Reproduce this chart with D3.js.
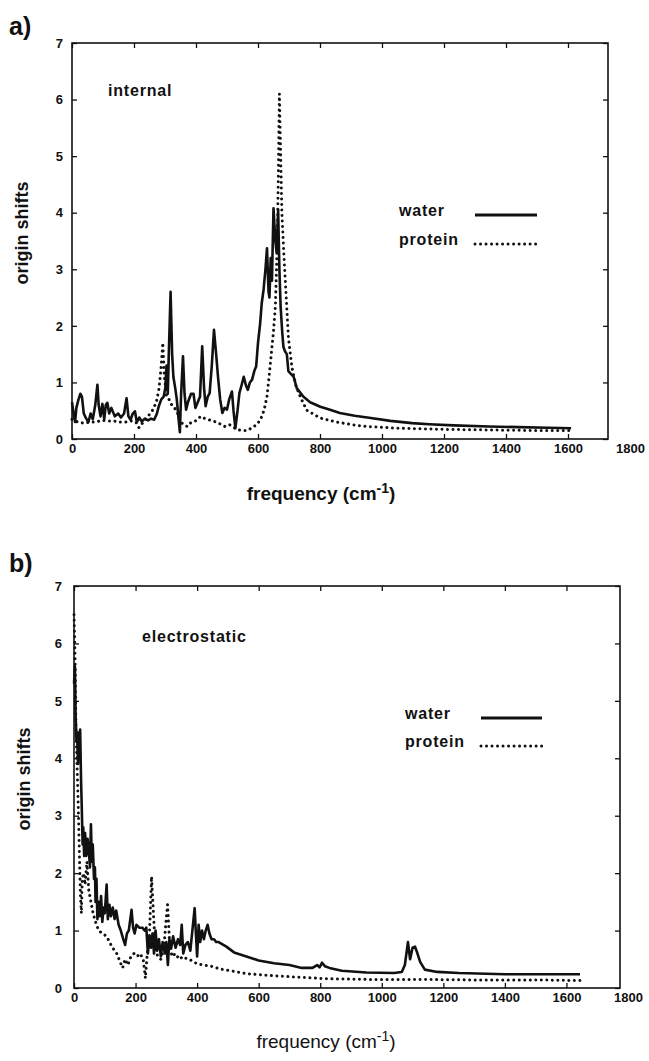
<!DOCTYPE html>
<html>
<head>
<meta charset="utf-8">
<script src="https://cdn.jsdelivr.net/npm/d3@7"></script>
<style>
  body { margin: 0; background: #fff; }
  svg text { font-family: 'Liberation Sans', Arial, sans-serif; fill: #111; }
  .tick text { font-size: 13px; font-weight: bold; }
  .tick line { stroke: #111; stroke-width: 1.3; }
  .frame { fill: none; stroke: #111; stroke-width: 1.6; }
  .water { fill: none; stroke: #111; stroke-width: 2.6; stroke-linejoin: round; }
  .protein { fill: none; stroke: #111; stroke-width: 3; stroke-dasharray: 0.01 5.5; stroke-linecap: round; }
  .panel-label { font-size: 25px; font-weight: bold; }
  .note { font-size: 16px; font-weight: bold; letter-spacing: 0.8px; }
  .axis-title { font-size: 18px; font-weight: bold; }
  .x-title { font-size: 19px; }
</style>
</head>
<body>
<svg width="649" height="1061"></svg>
<script>
const xTicks = [0, 200, 400, 600, 800, 1000, 1200, 1400, 1600, 1800]
const yTicks = [0, 1, 2, 3, 4, 5, 6, 7]
const legendNames = ['water', 'protein']

// a) internal : [frequency, origin shift]
const waterInternal = [
  [0, 0.65], [5, 0.45], [10, 0.3], [14, 0.55], [21, 0.7], [27, 0.8], [32, 0.75], [38, 0.45], [45, 0.37],
  [53, 0.3], [60, 0.45], [67, 0.35], [75, 0.6], [82, 0.96], [86, 0.6], [92, 0.4], [98, 0.62], [104, 0.35],
  [109, 0.6], [114, 0.64], [120, 0.45], [127, 0.55], [138, 0.4], [149, 0.45], [158, 0.38], [168, 0.45],
  [176, 0.72], [182, 0.4], [189, 0.34], [196, 0.45], [203, 0.49], [209, 0.3], [217, 0.38], [225, 0.31],
  [235, 0.36], [245, 0.33], [255, 0.36], [265, 0.34], [274, 0.45], [280, 0.58], [288, 0.7], [296, 0.75],
  [301, 0.9], [305, 1.3], [309, 0.8], [312, 1.46], [318, 2.6], [323, 1.5], [327, 1.1], [333, 0.9],
  [338, 0.7], [343, 0.4], [348, 0.12], [352, 0.8], [358, 1.46], [363, 0.8], [368, 0.52], [374, 0.65],
  [384, 0.8], [392, 0.8], [398, 0.55], [405, 0.64], [413, 0.75], [420, 1.64], [426, 0.9], [431, 0.58],
  [438, 0.75], [444, 0.81], [451, 1.3], [458, 1.93], [465, 1.5], [471, 1.1], [478, 0.7], [485, 0.46],
  [492, 0.55], [500, 0.52], [507, 0.7], [516, 0.84], [521, 0.5], [527, 0.19], [534, 0.5], [540, 0.81],
  [547, 0.95], [554, 1.1], [561, 0.95], [567, 0.87], [574, 1.0], [581, 1.05], [588, 1.2], [594, 1.28],
  [600, 1.7], [607, 2.05], [612, 2.4], [618, 2.64], [624, 3.0], [629, 3.37], [634, 2.6], [637, 2.5],
  [641, 3.2], [645, 2.8], [650, 4.08], [656, 3.5], [660, 3.3], [665, 4.05], [669, 3.0], [673, 2.34],
  [678, 1.9], [682, 1.63], [687, 1.55], [693, 1.5], [698, 1.2], [706, 1.15], [715, 1.1], [725, 0.9],
  [746, 0.75], [768, 0.65], [801, 0.57], [830, 0.52], [864, 0.46], [912, 0.41], [964, 0.37], [1027, 0.32],
  [1097, 0.28], [1152, 0.26], [1231, 0.24], [1344, 0.22], [1440, 0.21], [1536, 0.2], [1610, 0.19]
]
const proteinInternal = [
  [0, 0.35], [19, 0.3], [38, 0.28], [58, 0.3], [77, 0.3], [96, 0.33], [115, 0.32], [134, 0.32], [154, 0.3],
  [173, 0.3], [192, 0.32], [206, 0.3], [216, 0.2], [230, 0.3], [245, 0.4], [259, 0.5], [272, 0.65],
  [281, 0.9], [288, 1.3], [293, 1.7], [298, 1.1], [305, 0.75], [313, 0.7], [322, 0.6], [331, 0.55],
  [341, 0.45], [350, 0.3], [362, 0.25], [372, 0.22], [381, 0.28], [394, 0.3], [405, 0.35], [415, 0.4],
  [424, 0.37], [437, 0.35], [451, 0.32], [466, 0.3], [480, 0.26], [494, 0.22], [509, 0.25], [523, 0.2],
  [538, 0.16], [552, 0.15], [565, 0.15], [581, 0.2], [595, 0.25], [608, 0.34], [619, 0.5], [629, 0.75],
  [639, 1.28], [650, 1.9], [656, 2.34], [662, 3.4], [666, 4.8], [669, 6.1], [673, 5.0], [677, 4.0],
  [683, 3.3], [688, 2.8], [698, 1.8], [709, 1.28], [722, 0.95], [736, 0.75], [757, 0.51], [801, 0.37],
  [854, 0.3], [907, 0.25], [951, 0.22], [1056, 0.19], [1200, 0.17], [1344, 0.16], [1488, 0.15], [1610, 0.15]
]

// b) electrostatic
const waterElectro = [
  [0, 5.3], [3, 5.6], [5, 4.8], [8, 4.3], [10, 4.45], [13, 3.9], [15, 4.45], [18, 4.2], [20, 4.5],
  [23, 3.6], [25, 3.2], [28, 2.5], [30, 2.8], [33, 2.3], [36, 2.7], [40, 2.3], [44, 2.6], [48, 2.4],
  [52, 2.1], [55, 2.85], [58, 2.2], [61, 2.5], [65, 1.9], [68, 2.1], [70, 1.5], [73, 1.9], [76, 1.2],
  [80, 1.5], [84, 1.25], [88, 1.6], [92, 1.15], [96, 1.4], [100, 1.3], [106, 1.8], [110, 1.2], [115, 1.45],
  [120, 1.25], [126, 1.4], [132, 1.2], [137, 1.35], [145, 1.1], [152, 1.0], [160, 0.85], [166, 0.75],
  [172, 0.95], [178, 1.0], [187, 1.36], [192, 1.05], [197, 0.95], [203, 1.1], [212, 1.05], [222, 1.05],
  [230, 1.0], [235, 1.05], [240, 0.6], [245, 0.9], [250, 0.7], [255, 0.95], [260, 0.6], [265, 1.0],
  [270, 0.65], [276, 0.85], [282, 0.55], [288, 0.8], [295, 0.6], [300, 0.8], [305, 0.4], [310, 0.85],
  [316, 0.7], [322, 0.9], [330, 0.7], [338, 0.85], [345, 0.75], [350, 1.1], [355, 0.6], [362, 0.75],
  [370, 0.8], [378, 0.65], [392, 1.39], [396, 0.95], [400, 0.55], [405, 1.1], [410, 0.8], [416, 1.0],
  [422, 0.85], [428, 1.0], [434, 1.1], [440, 0.95], [447, 0.85], [455, 0.85], [462, 0.8], [470, 0.8],
  [495, 0.72], [520, 0.62], [560, 0.55], [600, 0.48], [650, 0.43], [700, 0.4], [740, 0.35], [775, 0.35],
  [790, 0.4], [798, 0.36], [806, 0.44], [815, 0.38], [830, 0.35], [870, 0.3], [950, 0.27], [1040, 0.26],
  [1065, 0.28], [1075, 0.4], [1085, 0.8], [1092, 0.5], [1100, 0.7], [1108, 0.72], [1116, 0.6],
  [1125, 0.45], [1140, 0.32], [1180, 0.28], [1250, 0.26], [1400, 0.24], [1550, 0.24], [1644, 0.24]
]
const proteinElectro = [
  [0, 6.5], [2, 6.1], [4, 5.6], [6, 4.6], [9, 4.0], [12, 3.5], [15, 2.9], [18, 2.2], [21, 1.6], [24, 1.3],
  [27, 1.9], [31, 2.0], [36, 1.8], [42, 2.2], [48, 1.7], [55, 1.5], [62, 1.3], [70, 1.15], [80, 1.0],
  [92, 0.95], [106, 0.9], [123, 0.72], [139, 0.6], [150, 0.45], [158, 0.35], [166, 0.5], [175, 0.4],
  [185, 0.55], [195, 0.6], [205, 0.55], [215, 0.6], [225, 0.5], [232, 0.17], [238, 0.6], [245, 0.9],
  [252, 1.94], [258, 1.3], [264, 0.7], [272, 0.55], [282, 0.5], [292, 0.7], [298, 1.1], [304, 1.45],
  [310, 0.85], [318, 0.55], [330, 0.6], [342, 0.5], [355, 0.55], [368, 0.5], [382, 0.48], [400, 0.42],
  [420, 0.4], [445, 0.38], [475, 0.33], [510, 0.3], [560, 0.25], [630, 0.22], [720, 0.19], [830, 0.16],
  [950, 0.15], [1100, 0.15], [1300, 0.14], [1500, 0.14], [1644, 0.13]
]

const svg = d3.select('svg')
const fmt = d3.format('d')

const drawPanel = p => {
  const x = d3.scaleLinear().domain([0, 1800]).range([p.left, p.xEnd])
  const y = d3.scaleLinear().domain([0, 7]).range([p.bottom, p.top])
  const g = svg.append('g')

  const xMax = x.invert(p.frameRight)
  const inside = xTicks.filter(d => d <= xMax)

  const bottom = g.append('g')
    .attr('transform', `translate(0, ${p.bottom})`)
    .call(d3.axisBottom(x).tickValues(xTicks).tickFormat(fmt).tickSize(-5).tickPadding(5))
  bottom.selectAll('.tick').filter(d => d > xMax).select('line').remove()

  g.append('g')
    .attr('transform', `translate(0, ${p.top})`)
    .call(d3.axisTop(x).tickValues(inside).tickSize(-5).tickFormat(''))

  g.append('g')
    .attr('transform', `translate(${p.left}, 0)`)
    .call(d3.axisLeft(y).tickValues(yTicks).tickFormat(fmt).tickSize(-5).tickPadding(p.yPad))

  g.append('g')
    .attr('transform', `translate(${p.frameRight}, 0)`)
    .call(d3.axisRight(y).tickValues(yTicks).tickSize(-5).tickFormat(''))

  g.selectAll('.domain').remove()
  g.selectAll('.tick text').attr('fill', '#111')

  g.append('rect')
    .attr('class', 'frame')
    .attr('x', p.left)
    .attr('y', p.top)
    .attr('width', p.frameRight - p.left)
    .attr('height', p.bottom - p.top)

  const line = d3.line()
    .x(d => x(d[0]))
    .y(d => y(d[1]))

  g.append('path').attr('class', 'water').attr('d', line(p.water))
  g.append('path').attr('class', 'protein').attr('d', line(p.protein))

  // legend
  legendNames.forEach((name, i) => {
    g.append('text')
      .attr('class', 'note')
      .attr('x', p.legendX)
      .attr('y', p.legendY[i])
      .text(name)
    g.append('line')
      .attr('class', i === 0 ? 'water' : 'protein')
      .attr('x1', p.legendLine[0])
      .attr('x2', p.legendLine[1])
      .attr('y1', p.legendY[i] - 1)
      .attr('y2', p.legendY[i] - 1)
      .style('stroke-width', i === 0 ? 3.2 : 3)
  })

  g.append('text')
    .attr('class', 'note')
    .attr('x', p.noteX)
    .attr('y', p.noteY)
    .text(p.note)

  g.append('text')
    .attr('class', 'panel-label')
    .attr('x', 9)
    .attr('y', p.labelY)
    .text(p.label)

  g.append('text')
    .attr('class', 'axis-title')
    .attr('text-anchor', 'middle')
    .attr('transform', `translate(${p.yTitleX}, ${(p.top + p.bottom) / 2 - 8}) rotate(-90)`)
    .text('origin shifts')

  const xt = g.append('text')
    .attr('class', 'x-title')
    .attr('text-anchor', 'middle')
    .attr('x', p.xTitleX)
    .attr('y', p.xTitleY)
    .style('font-weight', p.xTitleWeight)
  xt.append('tspan').text('frequency (cm')
  xt.append('tspan').attr('dy', -7).style('font-size', '14px').text('-1')
  xt.append('tspan').attr('dy', 7).text(')')
}

drawPanel({
  label: 'a)', labelY: 35, note: 'internal', noteX: 108, noteY: 96,
  left: 72, xEnd: 630, frameRight: 608, top: 43, bottom: 439, yPad: 9,
  water: waterInternal, protein: proteinInternal,
  legendX: 399, legendY: [216, 245], legendLine: [475, 537],
  yTitleX: 28, xTitleX: 321, xTitleY: 500, xTitleWeight: 'bold'
})

drawPanel({
  label: 'b)', labelY: 572, note: 'electrostatic', noteX: 142, noteY: 642,
  left: 74, xEnd: 628, frameRight: 620, top: 586, bottom: 988, yPad: 12,
  water: waterElectro, protein: proteinElectro,
  legendX: 405, legendY: [719, 747], legendLine: [481, 542],
  yTitleX: 30, xTitleX: 326, xTitleY: 1048, xTitleWeight: 'normal'
})
</script>
</body>
</html>
